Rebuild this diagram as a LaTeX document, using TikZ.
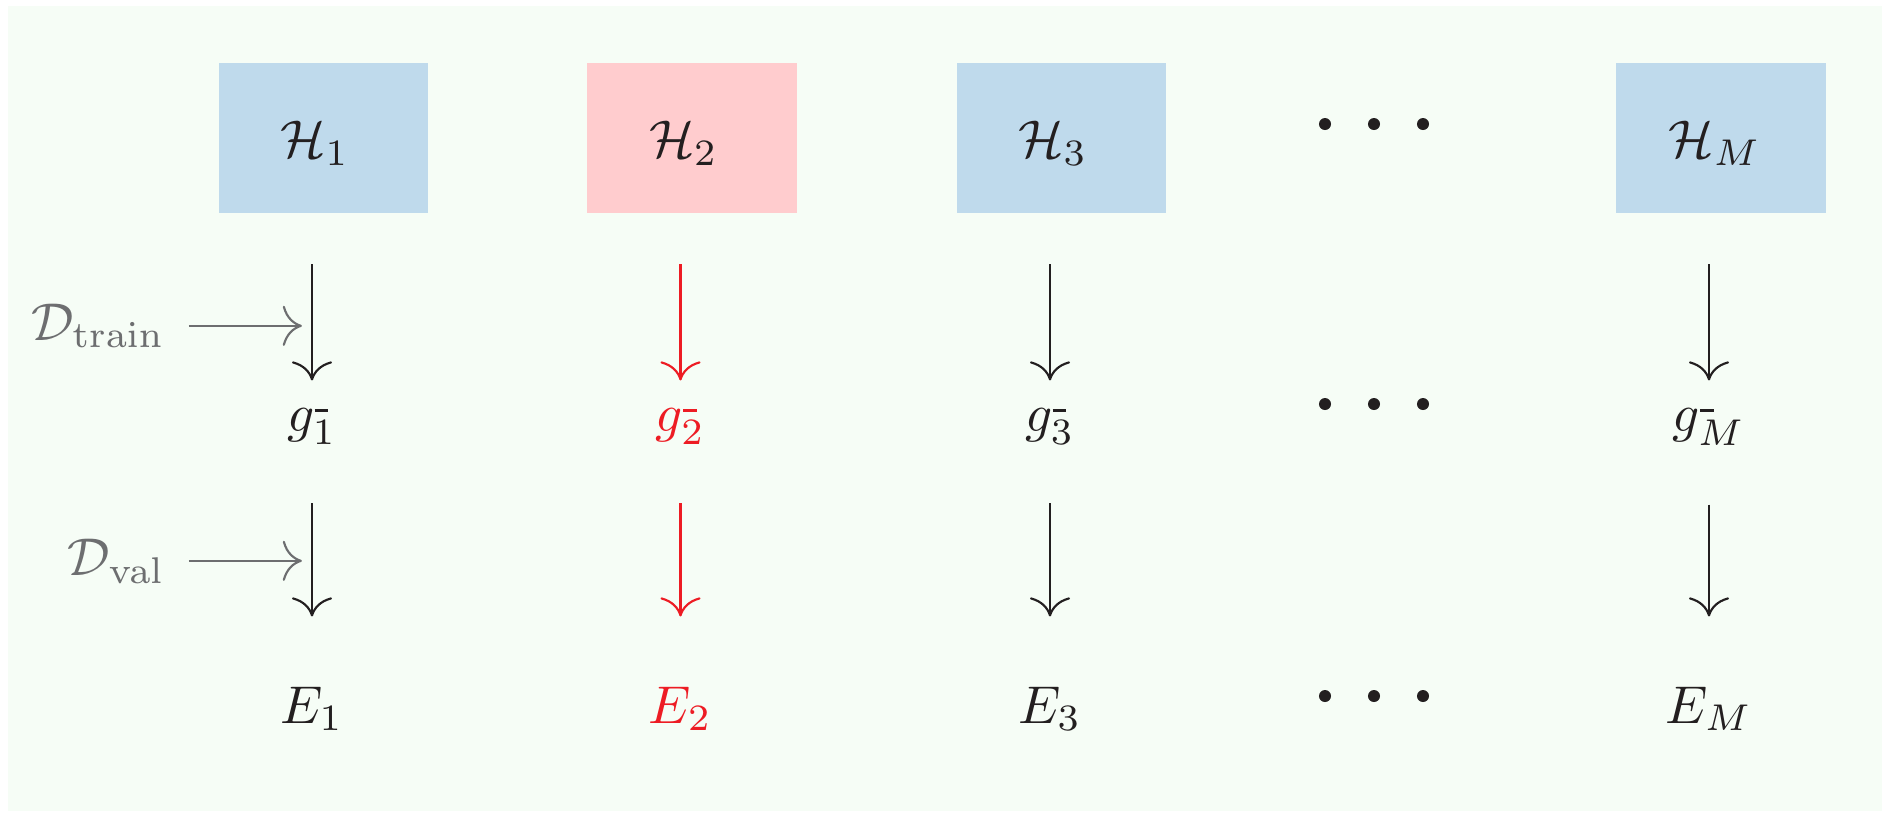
\documentclass[tikz,border=0pt]{standalone}
\usepackage{xcolor}
\usetikzlibrary{arrows.meta}
\definecolor{bgc}{RGB}{246,253,246}
\definecolor{boxblue}{RGB}{191,218,236}
\definecolor{boxpink}{RGB}{255,204,206}
\definecolor{myred}{RGB}{237,28,36}
\definecolor{myblack}{RGB}{35,31,32}
\definecolor{mygrey}{RGB}{109,110,112}
\newcommand\mybar{\rule{2.6pt}{0.5pt}}
\begin{document}
\begin{tikzpicture}[x=0.188pt,y=-0.188pt,
  hbox/.style={rectangle,inner sep=0pt,minimum width=39.3pt,minimum height=28.2pt},
  lab/.style={inner sep=0pt,text=myblack,anchor=base},
  dlab/.style={inner sep=0pt,text=mygrey,anchor=base east},
  dot/.style={circle,fill=myblack,inner sep=0pt,minimum size=2.26pt},
  arr/.style={-{Computer Modern Rightarrow[scale=1.45]},draw=myblack},
  down1/.style={shorten <=9.4pt,shorten >=5pt},
  down2/.style={shorten <=10.9pt,shorten >=13pt},
  side/.style={arr,draw=mygrey,shorten <=4.3pt,shorten >=1.9pt}]
\useasboundingbox (0,0) rectangle (1887,813);
\fill[bgc] (8,6) rectangle (1882,811);
% boxes
\node[hbox,fill=boxblue] (b1) at (323.5,138) {};
\node[hbox,fill=boxpink] (b2) at (692,138) {};
\node[hbox,fill=boxblue] (b3) at (1061.5,138) {};
\node[hbox,fill=boxblue] (bM) at (1721,138) {};
\node[lab] (h1) at (315,157) {$\mathcal{H}_1$};
\node[lab] (h2) at (683.5,157) {$\mathcal{H}_2$};
\node[lab] (h3) at (1053,157) {$\mathcal{H}_3$};
\node[lab] (hM) at (1715,157) {$\mathcal{H}_M$};
% g labels
\node[lab] (g1) at (312,431) {$g^{\mybar}_1$};
\node[lab,text=myred] (g2) at (680.5,431) {$g^{\mybar}_2$};
\node[lab] (g3) at (1050,431) {$g^{\mybar}_3$};
\node[lab] (gM) at (1709,431) {$g^{\mybar}_M$};
% E labels
\node[lab] (e1) at (312,723) {$E_1$};
\node[lab,text=myred] (e2) at (680.5,723) {$E_2$};
\node[lab] (e3) at (1050,723) {$E_3$};
\node[lab] (eM) at (1709,723) {$E_M$};
% dots
\node[dot] (d11) at (1325,124) {};
\node[dot] (d12) at (1374,124) {};
\node[dot] (d13) at (1423,124) {};
\node[dot] (d21) at (1325,404) {};
\node[dot] (d22) at (1374,404) {};
\node[dot] (d23) at (1423,404) {};
\node[dot] (d31) at (1325,696) {};
\node[dot] (d32) at (1374,696) {};
\node[dot] (d33) at (1423,696) {};
% data labels
\node[dlab] (dtr) at (166,340) {$\mathcal{D}_{\mathrm{train}}$};
\node[dlab] (dva) at (166,575) {$\mathcal{D}_{\mathrm{val}}$};
% arrows
\draw[arr,down1] (b1.south -| g1.north) -- (g1.north);
\draw[arr,down1,draw=myred] (b2.south -| g2.north) -- (g2.north);
\draw[arr,down1] (b3.south -| g3.north) -- (g3.north);
\draw[arr,down1] (bM.south -| gM.north) -- (gM.north);
\draw[arr,down2] (g1.south) -- (e1.north);
\draw[arr,down2,draw=myred] (g2.south) -- (e2.north);
\draw[arr,down2] (g3.south) -- (e3.north);
\draw[arr,down2] (gM.south) -- (eM.north);
\draw[side] (dtr.east) -- (dtr.east -| g1.north);
\draw[side] (dva.east) -- (dva.east -| g1.north);
\end{tikzpicture}
\end{document}
